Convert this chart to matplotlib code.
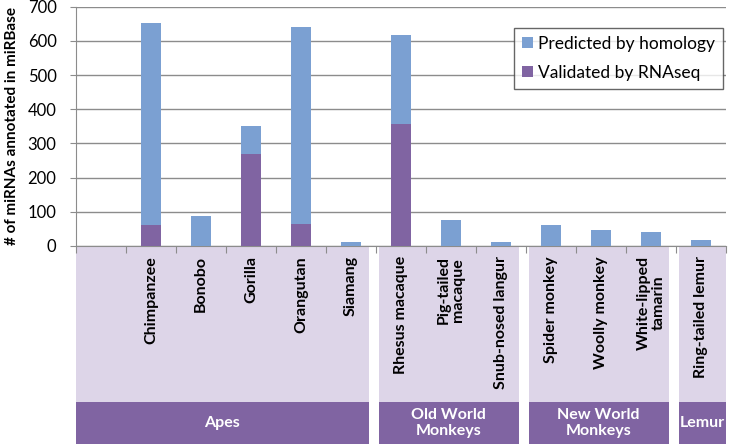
import matplotlib

matplotlib.use("Agg")
import matplotlib.pyplot as plt
import matplotlib.transforms as mtransforms
from matplotlib.patches import Rectangle
import numpy as np

plt.rcParams["font.family"] = ["Lato", "DejaVu Sans"]

species = ["", "Chimpanzee", "Bonobo", "Gorilla", "Orangutan", "Siamang",
           "Rhesus macaque", "Pig-tailed\nmacaque", "Snub-nosed langur",
           "Spider monkey", "Woolly monkey", "White-lipped\ntamarin",
           "Ring-tailed lemur"]
validated = [0, 61, 0, 268, 64, 0, 356, 0, 0, 0, 0, 0, 0]
predicted = [0, 592, 88, 83, 576, 11, 262, 76, 11, 60, 48, 42, 17]

groups = ["Apes", "Old World\nMonkeys", "New World\nMonkeys", "Lemur"]
group_sizes = [6, 3, 3, 1]

BLUE = "#7BA0D2"
PURPLE = "#8064A2"
LIGHT = "#DDD5E8"
GRID = "#8C8C8C"

fig = plt.figure(figsize=(7.33, 4.47), dpi=100)
ax = fig.add_axes([76 / 733, 1 - 246 / 447, 650 / 733, (246 - 6.7) / 447])

x = np.arange(len(species))
ax.bar(x, validated, width=0.4, color=PURPLE, label="Validated by RNAseq", zorder=3)
ax.bar(x, predicted, width=0.4, bottom=validated, color=BLUE,
       label="Predicted by homology", zorder=3)

ax.set_xlim(-0.5, len(species) - 0.5)
ax.set_ylim(0, 700)
ax.set_yticks(range(0, 701, 100))
ax.tick_params(axis="y", labelsize=12, length=4, color=GRID, pad=10)
ax.yaxis.grid(True, color=GRID, linewidth=1)
ax.set_axisbelow(True)
for s in ["top", "right"]:
    ax.spines[s].set_visible(False)
for s in ["left", "bottom"]:
    ax.spines[s].set_color(GRID)

# category boundaries as ticks, no labels
ax.set_xticks(np.arange(len(species) + 1) - 0.5)
ax.set_xticklabels([])
ax.tick_params(axis="x", length=5, color=GRID)

ax.set_ylabel("# of miRNAs annotated in miRBase", fontsize=11,
              fontweight="bold", labelpad=6)

# legend, reversed so "Predicted" is on top
h, l = ax.get_legend_handles_labels()
leg = ax.legend(h[::-1], l[::-1], loc="upper right", bbox_to_anchor=(1.0, 0.925),
                fontsize=12.5, frameon=True, fancybox=False, edgecolor="#404040",
                handlelength=0.6, handleheight=0.6, handletextpad=0.3,
                borderpad=0.45, labelspacing=0.75, borderaxespad=0.2)
leg.get_frame().set_linewidth(1)

# group boxes under the axis
trans = mtransforms.blended_transform_factory(ax.transData, fig.transFigure)
y_axis = 1 - 246 / 447
y_mid = 1 - 402 / 447
y_bot = 1 - 444 / 447
start = 0
for gi, (name, n) in enumerate(zip(groups, group_sizes)):
    lo = start - 0.5 + (0 if gi == 0 else 0.05)
    hi = start + n - 0.5 - (0 if gi == len(groups) - 1 else 0.15)
    ax.add_patch(Rectangle((lo, y_mid), hi - lo, y_axis - y_mid, transform=trans,
                           facecolor=LIGHT, edgecolor="none", clip_on=False, zorder=0.5))
    ax.add_patch(Rectangle((lo, y_bot), hi - lo, y_mid - y_bot, transform=trans,
                           facecolor=PURPLE, edgecolor="none", clip_on=False, zorder=0.5))
    ax.text((lo + hi) / 2, (y_mid + y_bot) / 2, name, transform=trans, ha="center",
            va="center", color="white", fontsize=11.5, fontweight="bold",
            linespacing=1.25)
    start += n

for i, name in enumerate(species):
    ax.text(i, 1 - 256 / 447, name, transform=trans, rotation=90, ha="center",
            va="top", fontsize=11.5, fontweight="bold", linespacing=1.05)

fig.savefig("out.png")
